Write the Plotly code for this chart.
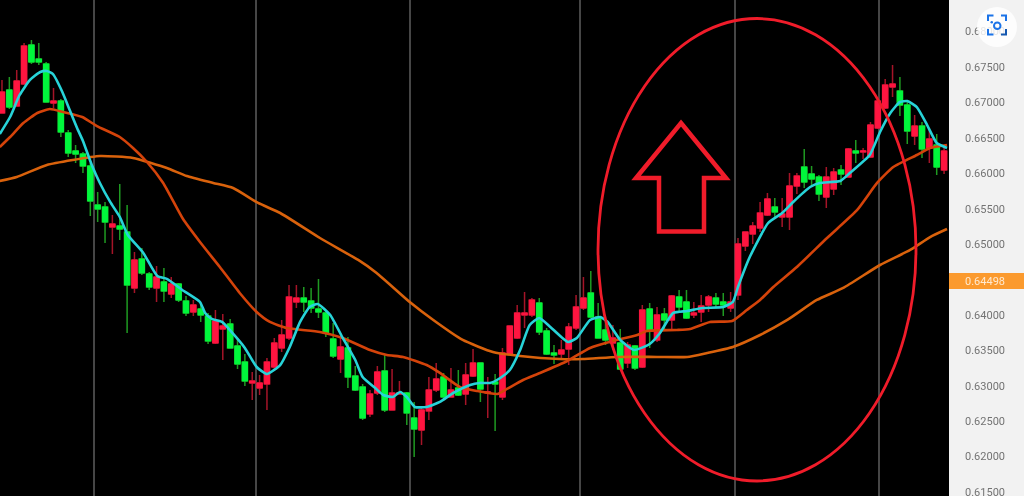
import plotly.graph_objects as go

# Prices are written in points of 0.00001
open_pts = [66851,67175,66949,67260,67811,67613,67543,66992,67020,66569,66315,66272,66103,65552,65524,65242,65256,65171,64381,64790,64579,64381,64466,64296,64437,64197,64042,64084,63985,63604,63802,63873,63562,63336,63040,62969,63026,63265,63534,63675,64183,64239,64197,64084,64028,63661,63378,63534,63138,62983,62603,62898,63209,62659,62884,62898,62545,62376,62645,62941,63124,62842,62969,62884,63138,63322,62898,63054,62842,63449,63675,64000,64000,64169,63774,63463,63449,63519,63816,64098,64310,63971,63788,63604,63604,63322,63562,63265,64084,63647,64014,63929,64254,64183,64000,64042,64141,64239,64183,64098,64282,64974,65143,65227,65411,65524,65383,65383,65820,66088,65990,65947,65665,65778,66046,65947,66315,66301,66230,66639,66921,67218,67161,66964,66526,66667,66357,66399,66046]
close_pts = [67147,66935,67303,67797,67571,67571,67006,67020,66583,66287,66272,66103,65609,65496,65312,65284,65213,64423,64776,64593,64395,64536,64338,64437,64211,64028,64141,64000,63633,63915,63844,63534,63308,63068,63068,63040,63336,63604,63717,64254,64239,64183,64098,64042,63746,63421,63548,63124,62941,62545,62884,63195,62659,62898,62898,62617,62390,62659,62941,63096,62842,62941,62870,63153,63322,62955,62913,63026,63463,63844,64028,64028,64211,63760,63449,63435,63505,63830,64113,64239,63971,63675,63647,63675,63237,63576,63251,64070,63774,64000,63929,64268,64113,63957,64028,64127,64254,64155,64141,64183,65002,65171,65256,65439,65637,65454,65425,65820,65961,65877,65919,65707,65947,66018,65990,66343,66287,66315,66681,67020,67246,67260,66964,66597,66667,66343,66484,66088,66315]
high_pts = [67317,67359,67458,67839,67881,67839,67571,67204,67048,66611,66399,66301,66145,65736,65595,65411,65849,65552,64889,64945,64607,64691,64663,64536,64451,64268,64211,64169,64028,64070,64014,63943,63675,63449,63195,63153,63392,63675,63929,64423,64423,64395,64381,64508,64070,63887,63675,63689,63279,63026,62941,63279,63449,63237,63068,62913,62772,62687,63124,63322,63181,63251,63223,63322,63519,63322,63124,63167,63534,63844,64141,64324,64239,64239,63816,63576,63647,63887,64282,64536,64621,64169,63929,63858,63802,63618,63576,64141,64169,64113,64098,64282,64352,64352,64183,64282,64282,64310,64310,64324,65086,65171,65312,65595,65722,65651,65651,66004,66004,66343,66103,65975,66088,66074,66117,66357,66470,66357,66724,67076,67331,67529,67359,67006,66822,66724,66611,66555,66399]
low_pts = [66851,66907,66949,67260,67543,67529,67006,66921,66512,66230,66145,66004,65397,65312,65016,64861,65058,63746,64310,64564,64352,64183,64183,64239,64183,63985,63985,63901,63590,63590,63364,63534,63237,62997,62800,62870,62659,63223,63477,63647,64098,64042,64028,63957,63689,63392,63181,62969,62927,62517,62560,62870,62631,62659,62884,62446,61995,62165,62517,62913,62828,62842,62856,62729,63124,62772,62545,62362,62800,63435,63661,63816,63971,63717,63435,63308,63364,63293,63788,64070,63957,63675,63576,63505,63223,63251,63223,63251,63534,63618,63788,63788,64042,63943,63957,63901,64042,64098,63985,64042,64211,64903,65002,65171,65397,65383,65242,65199,65707,65792,65820,65609,65510,65693,65834,65947,66145,66201,66216,66625,66907,67076,66808,66413,66399,66216,66145,65975,65990]

fast_x = [-0.3,1.1,2.4,3.8,5.2,6.1,6.9,8.2,9.2,10.2,11.0,12.2,13.3,14.7,16.0,17.1,19.2,21.1,22.4,24.5,26.9,27.6,28.5,29.9,31.3,33.0,34.6,36.0,37.8,39.1,40.5,41.8,42.9,44.6,46.3,48.0,49.0,50.7,51.8,53.1,54.1,55.0,56.1,57.7,59.5,61.3,63.6,64.9,66.3,67.7,69.0,70.4,71.7,73.0,74.5,76.9,78.1,79.9,81.3,82.3,84.0,85.9,88.0,89.4,91.2,93.1,95.2,98.0,99.3,100.0,101.6,104.1,106.0,107.5,109.8,111.1,113.9,115.2,117.9,119.3,120.7,122.0,123.0,124.3,125.7,127.0,128.4]
fast_pts = [66555,66794,67105,67317,67430,67444,67402,67147,66893,66639,66456,66117,65863,65595,65383,65129,64875,64550,64508,64352,64183,64028,63943,63901,63746,63534,63265,63167,63293,63548,63901,64113,64155,64000,63675,63364,63124,62969,62870,62842,62913,62842,62701,62701,62772,62898,63011,63040,63040,63110,63223,63505,63858,63957,63830,63618,63675,63929,63971,63901,63647,63505,63590,63746,64028,64056,64098,64113,64183,64395,64818,65298,65439,65595,65806,65863,65891,66004,66258,66583,66851,67006,67020,66935,66681,66427,66357]

mid_x = [-0.3,1.1,2.9,4.8,6.5,8.3,10.9,12.9,16.0,17.8,19.7,21.9,24.6,26.9,29.6,32.3,34.6,36.4,38.7,43.2,46.3,50.0,52.3,54.5,57.7,59.5,62.2,64.5,67.3,68.6,70.8,73.1,76.8,79.9,83.0,86.3,87.6,91.7,93.5,96.2,99.2,101.2,103.0,104.8,108.0,112.1,116.2,118.9,121.1,124.3,126.1,128.4]
mid_pts = [66371,66512,66710,66851,66907,66865,66794,66667,66512,66357,66159,65863,65354,65030,64677,64310,64042,63901,63816,63760,63675,63505,63435,63407,63293,63181,62983,62927,62884,62955,63082,63181,63350,63534,63633,63717,63774,63788,63802,63901,63915,64070,64211,64395,64677,65086,65482,65863,66088,66258,66357,66399]

slow_x = [-0.3,2.0,6.1,9.6,13.3,17.8,22.4,25.1,28.7,31.4,34.8,37.8,43.2,48.4,50.9,55.4,58.6,62.6,66.7,70.4,75.8,78.9,83.6,89.0,93.1,95.8,99.3,103.0,106.7,110.7,114.3,119.3,123.4,126.1,128.4]
slow_pts = [65891,65947,66117,66187,66244,66216,66074,65961,65863,65792,65581,65439,65086,64776,64593,64183,63929,63647,63477,63421,63378,63378,63407,63407,63407,63463,63548,63717,63929,64211,64381,64705,64917,65100,65213]

session_breaks = [12.5, 34.5, 55.4, 78.5, 99.6, 119.2]
price_ticks = [0.615,0.62,0.625,0.63,0.635,0.64,0.65,0.655,0.66,0.665,0.67,0.675,0.68]
tick_labels = ["0.61500","0.62000","0.62500","0.63000","0.63500","0.64000","0.65000","0.65500","0.66000","0.66500","0.67000","0.67500","0.68000"]
last_price = 0.64498

W, H, PLOT_W, PLOT_H = 1024, 499, 949, 496
RED, GREEN = "#ff1540", "#00f73c"
RED_WICK, GREEN_WICK = "#a51428", "#1f9a22"
MARK = "#f01c2a"

def pr(v):
    return [p / 1e5 for p in v]

o, c, hi, lo = pr(open_pts), pr(close_pts), pr(high_pts), pr(low_pts)
xs = list(range(len(o)))

def px(x):
    return x / PLOT_W

def py(y):
    return 1 - y / PLOT_H

def path(points, close=True):
    s = "M" + " L".join(f"{px(x):.5f},{py(y):.5f}" for x, y in points)
    return s + (" Z" if close else "")

fig = go.Figure()
# wicks
fig.add_trace(go.Candlestick(
    x=xs, open=o, high=hi, low=lo, close=c, whiskerwidth=0,
    increasing=dict(line=dict(color=RED_WICK, width=1.5), fillcolor=RED_WICK),
    decreasing=dict(line=dict(color=GREEN_WICK, width=1.5), fillcolor=GREEN_WICK),
    showlegend=False, hoverinfo="skip"))
# bodies
fig.add_trace(go.Candlestick(
    x=xs, open=o, close=c,
    high=[max(a, b) for a, b in zip(o, c)], low=[min(a, b) for a, b in zip(o, c)],
    whiskerwidth=0,
    increasing=dict(line=dict(color=RED, width=1), fillcolor=RED),
    decreasing=dict(line=dict(color=GREEN, width=1), fillcolor=GREEN),
    showlegend=False, hoverinfo="skip"))
for xv, yv, col in [(slow_x, slow_pts, "#d9620c"), (mid_x, mid_pts, "#d4430a"), (fast_x, fast_pts, "#27d3d8")]:
    fig.add_trace(go.Scatter(x=xv, y=pr(yv), mode="lines", showlegend=False, hoverinfo="skip",
                             line=dict(color=col, width=2.6, shape="spline", smoothing=0.5)))

shapes = [
    # ellipse and arrow drawn over the chart
    dict(type="circle", xref="paper", yref="paper", x0=px(598), x1=px(916), y0=py(18.5), y1=py(481),
         line=dict(color=MARK, width=2.8)),
    dict(type="path", xref="paper", yref="paper",
         path=path([(681, 123), (726, 178), (704, 178), (704, 231.5), (659, 231.5), (659, 178), (636, 178)]),
         line=dict(color=MARK, width=4.5)),
    # white rim under the chart
    dict(type="rect", xref="paper", yref="paper", x0=px(0), x1=px(1024), y0=py(496), y1=py(499),
         fillcolor="#ffffff", line=dict(width=0)),
    # orange price box
    dict(type="rect", xref="paper", yref="paper", x0=px(949), x1=px(1024), y0=py(273), y1=py(289),
         fillcolor="#fb9a2e", line=dict(width=0)),
    # lens badge
    dict(type="circle", xref="paper", yref="paper", x0=px(977), x1=px(1017), y0=py(7), y1=py(47),
         fillcolor="rgba(255,255,255,0.82)", line=dict(width=0)),
    dict(type="path", xref="paper", yref="paper",
         path=path([(988, 21), (988, 15.5), (993.5, 15.5)], False), line=dict(color="#1a73e8", width=2)),
    dict(type="path", xref="paper", yref="paper",
         path=path([(1001, 15.5), (1006, 15.5), (1006, 21)], False), line=dict(color="#1a73e8", width=2)),
    dict(type="path", xref="paper", yref="paper",
         path=path([(988, 29), (988, 34.5), (993.5, 34.5)], False), line=dict(color="#1a73e8", width=2)),
    dict(type="path", xref="paper", yref="paper",
         path=path([(1001, 34.5), (1006, 34.5), (1006, 29)], False), line=dict(color="#1558b0", width=2)),
    dict(type="circle", xref="paper", yref="paper", x0=px(994), x1=px(1000.5), y0=py(22.5), y1=py(29),
         line=dict(color="#1a73e8", width=2)),
    dict(type="circle", xref="paper", yref="paper", x0=px(990.5), x1=px(993), y0=py(21), y1=py(23.5),
         fillcolor="#1a73e8", line=dict(width=0)),
]

fig.update_layout(
    width=W, height=H, margin=dict(l=0, r=W - PLOT_W, t=0, b=H - PLOT_H),
    paper_bgcolor="#f2f2f2", plot_bgcolor="#000000", showlegend=False,
    boxgap=0.28, boxgroupgap=0, boxmode="overlay",
    shapes=shapes,
    xaxis=dict(range=[-0.27, 128.67], rangeslider=dict(visible=False), tickmode="array",
               tickvals=session_breaks, ticktext=[""] * len(session_breaks), ticks="", showticklabels=False,
               showgrid=True, gridcolor="#464646", gridwidth=2, zeroline=False, showline=False),
    yaxis=dict(range=[0.61444, 0.68446], side="right", tickmode="array", tickvals=price_ticks, ticktext=tick_labels,
               ticks="", ticklabelstandoff=15, showgrid=False, zeroline=False, showline=False,
               tickfont=dict(family="Roboto", size=11, color="#737373")),
    annotations=[dict(xref="paper", yref="y", x=px(985), y=last_price, yshift=-1.5, text=f"{last_price:.5f}",
                      showarrow=False, xanchor="center", font=dict(family="Roboto", size=11, color="#ffe9cf"))],
)

fig.write_html("out.html", config=dict(displayModeBar=False),
               post_script="document.body.style.margin='0';document.body.style.overflow='hidden';"
                           "document.querySelector('.plotly-graph-div').style.filter='blur(0.6px)';")
